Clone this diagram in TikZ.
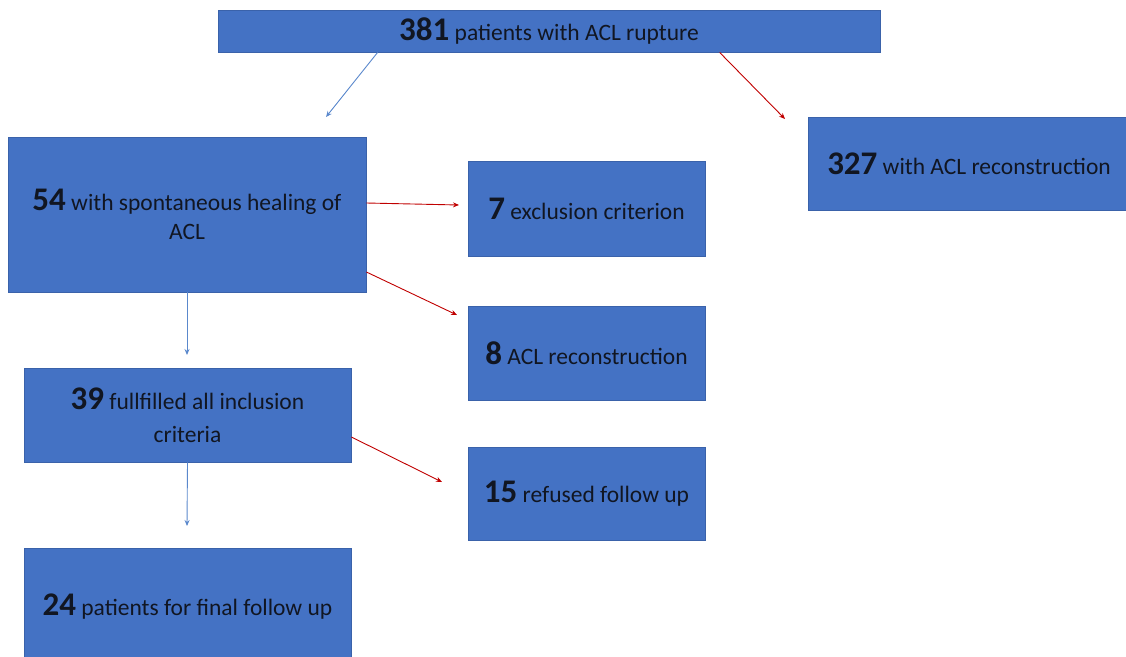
\documentclass[tikz,border=0pt]{standalone}
\usepackage{fontspec}
\setmainfont{Carlito}
\usetikzlibrary{arrows.meta}
\definecolor{boxblue}{HTML}{4472C4}
\definecolor{boxedge}{HTML}{3A62AA}
\definecolor{arrblue}{HTML}{5A88CC}
\definecolor{arrred}{HTML}{C00000}
\definecolor{txt}{HTML}{111622}
\newcommand{\nb}[1]{{\fontsize{33}{34}\selectfont\bfseries #1}}
\tikzset{
  fbox/.style={draw=boxedge, fill=boxblue, line width=0.8pt, text=txt, align=center,
    inner sep=0pt, font=\fontsize{23.5}{33}\selectfont},
  barrow/.style={draw=arrblue, line width=0.9pt, -{Stealth[length=6pt,width=5pt]}},
  rarrow/.style={draw=arrred, line width=0.9pt, -{Stealth[length=6pt,width=5pt]}},
}
\begin{document}
\begin{tikzpicture}[x=1pt,y=-1pt]
\useasboundingbox (0,0) rectangle (1126,656);
\begin{scope}
\clip (0,0) rectangle (1126,656);
\node[fbox, minimum width=662pt, minimum height=42pt] (top) at (549,31) {\nb{381} patients with ACL rupture};
\node[fbox, minimum width=322pt, minimum height=93pt] (r327) at (969,163.5) {\nb{327} with ACL reconstruction};
\node[fbox, minimum width=358pt, minimum height=155pt] (b54) at (187,214.5) {\raisebox{-4pt}{\nb{54} with spontaneous healing of}\\ACL};
\node[fbox, minimum width=237pt, minimum height=95pt] (b7) at (586.5,208.5) {\nb{7} exclusion criterion};
\node[fbox, minimum width=237pt, minimum height=94pt] (b8) at (586.5,353) {\nb{8} ACL reconstruction};
\node[fbox, minimum width=327pt, minimum height=94pt] (b39) at (187.5,415) {\nb{39} fullfilled all inclusion\\criteria};
\node[fbox, minimum width=237pt, minimum height=93pt] (b15) at (586.5,493.5) {\nb{15} refused follow up};
\node[fbox, minimum width=327pt, minimum height=116pt] (b24) at (187.5,606.5) {\nb{24} patients for final follow up};
\end{scope}
\coordinate (e1) at (326,117);
\coordinate (e2) at (785,119);
\coordinate (e3) at (459,205);
\coordinate (e4) at (457,315);
\coordinate (e5) at (187,355);
\coordinate (e6) at (442,482);
\coordinate (e7) at (187,526);
\draw[barrow] (top.south west) ++(160,0) coordinate (s1) -- (e1);
\draw[rarrow] (top.south west) ++(502,0) coordinate (s2) -- (e2);
\draw[rarrow] ([yshift=11.5pt]b54.east) -- (e3);
\draw[rarrow] ([yshift=-57.5pt]b54.east) -- (e4);
\draw[barrow] (b54.south) -- (e5);
\draw[rarrow] ([yshift=-22pt]b39.east) -- (e6);
\draw[barrow] (b39.south) -- (e7);
\end{tikzpicture}
\end{document}
